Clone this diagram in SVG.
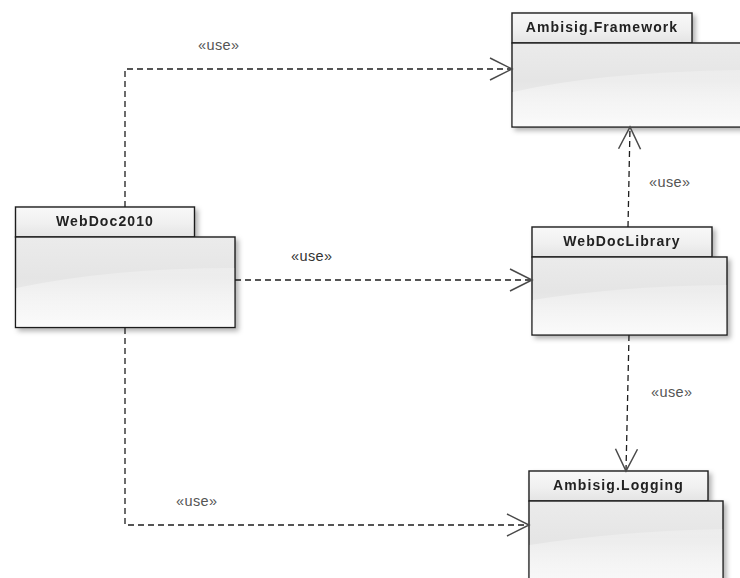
<svg xmlns="http://www.w3.org/2000/svg" width="740" height="578" viewBox="0 0 740 578">
<style>
.tab{fill:url(#tabGrad);stroke:#1e1e1e;stroke-width:1.4}
.body{fill:url(#bodyGrad);stroke:#1e1e1e;stroke-width:1.4}
.shine{fill:url(#shineGrad);stroke:none}
.name{font-family:"Liberation Sans",Arial,sans-serif;font-size:14px;font-weight:bold;fill:#222;letter-spacing:1.1px;text-anchor:middle}
.lbl{font-family:"Liberation Sans",Arial,sans-serif;font-size:14.5px;fill:#555;letter-spacing:0.4px}
.dep{fill:none;stroke:#1e1e1e;stroke-width:1.3;stroke-dasharray:6 4;marker-end:url(#open)}
</style>
<defs>
<linearGradient id="tabGrad" x1="0" y1="0" x2="0" y2="1">
<stop offset="0" stop-color="#f8f8f8"/>
<stop offset="0.55" stop-color="#f0f0f0"/>
<stop offset="1" stop-color="#e4e4e4"/>
</linearGradient>
<linearGradient id="bodyGrad" x1="0" y1="0" x2="0" y2="1">
<stop offset="0" stop-color="#ebebeb"/>
<stop offset="0.45" stop-color="#e5e5e5"/>
<stop offset="1" stop-color="#f3f3f3"/>
</linearGradient>
<linearGradient id="shineGrad" x1="0" y1="0" x2="0" y2="1">
<stop offset="0" stop-color="#ffffff" stop-opacity="0.25"/>
<stop offset="1" stop-color="#ffffff" stop-opacity="0.6"/>
</linearGradient>
<filter id="shadow" x="-10%" y="-10%" width="130%" height="130%">
<feDropShadow dx="3" dy="3" stdDeviation="2.5" flood-color="#000" flood-opacity="0.3"/>
</filter>
<marker id="open" markerUnits="userSpaceOnUse" markerWidth="26" markerHeight="26" viewBox="-24 -13 26 26" refX="0" refY="0" orient="auto" overflow="visible">
<path d="M-22,-11 L0,0 L-22,11" fill="none" stroke="#4a4a4a" stroke-width="1.5" stroke-dasharray="none"/>
</marker>
</defs>
<rect width="740" height="578" fill="#ffffff"/>

<g id="pkg-framework" filter="url(#shadow)">
<rect class="tab" x="512" y="13" width="180" height="30"/>
<rect class="body" x="512" y="43" width="240" height="84"/>
<path class="shine" d="M512.7,92 Q600,72 740,70 L740,126.3 L512.7,126.3 Z"/>
<text class="name" x="602" y="32">Ambisig.Framework</text>
</g>

<g id="pkg-webdoc2010" filter="url(#shadow)">
<rect class="tab" x="15.5" y="207" width="179" height="30"/>
<rect class="body" x="15.5" y="237" width="219.5" height="90.5"/>
<path class="shine" d="M16.2,288 Q110,268 234.3,268 L234.3,326.8 L16.2,326.8 Z"/>
<text class="name" x="105" y="226">WebDoc2010</text>
</g>

<g id="pkg-webdoclibrary" filter="url(#shadow)">
<rect class="tab" x="532" y="227" width="180" height="30"/>
<rect class="body" x="532" y="257" width="195" height="78"/>
<path class="shine" d="M532.7,300 Q620,286 726.3,285 L726.3,334.3 L532.7,334.3 Z"/>
<text class="name" x="622" y="246">WebDocLibrary</text>
</g>

<g id="pkg-logging" filter="url(#shadow)">
<rect class="tab" x="529" y="471" width="179" height="30"/>
<rect class="body" x="529" y="501" width="194" height="90"/>
<path class="shine" d="M529.7,545 Q620,531 722.3,529 L722.3,590 L529.7,590 Z"/>
<text class="name" x="618.5" y="490">Ambisig.Logging</text>
</g>

<g id="connectors">
<path class="dep" d="M125,207 L125,69 L512,69"/>
<path class="dep" d="M235,280 L532,280"/>
<path class="dep" d="M125,328 L125,525 L529,525"/>
<path class="dep" d="M628,227 L630,127"/>
<path class="dep" d="M629,335 L626,471"/>
<text class="lbl" x="198" y="50">«use»</text>
<text class="lbl" x="291" y="261" style="fill:#333">«use»</text>
<text class="lbl" x="176" y="506">«use»</text>
<text class="lbl" x="649" y="187">«use»</text>
<text class="lbl" x="651" y="397">«use»</text>
</g>
</svg>
